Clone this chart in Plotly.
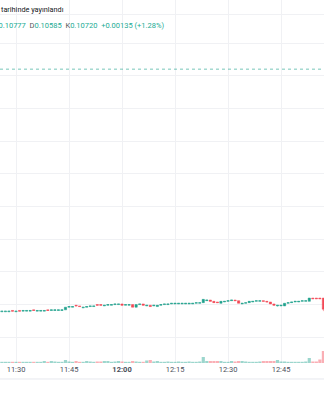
import plotly.graph_objects as go
import pandas as pd

# ---- data (1-minute candles, 11:26 .. 12:57) ----
times = pd.date_range("2024-01-01 11:26", periods=92, freq="min")

opens = [0.10689, 0.10689, 0.10689, 0.10691, 0.10689, 0.10691, 0.10690, 0.10690, 0.10690, 0.10692,
         0.10690, 0.10690, 0.10690, 0.10692, 0.10691, 0.10691, 0.10691, 0.10691, 0.10692, 0.10696,
         0.10696, 0.10699, 0.10698, 0.10695, 0.10696, 0.10697, 0.10697, 0.10700, 0.10700, 0.10698,
         0.10699, 0.10699, 0.10700, 0.10700, 0.10701, 0.10699, 0.10699, 0.10700, 0.10696, 0.10700,
         0.10701, 0.10698, 0.10699, 0.10698, 0.10697, 0.10699, 0.10700, 0.10700, 0.10701, 0.10701,
         0.10701, 0.10701, 0.10701, 0.10701, 0.10701, 0.10702, 0.10702, 0.10703, 0.10706, 0.10707,
         0.10705, 0.10704, 0.10702, 0.10704, 0.10705, 0.10706, 0.10707, 0.10706, 0.10701, 0.10702,
         0.10703, 0.10704, 0.10705, 0.10705, 0.10706, 0.10705, 0.10704, 0.10701, 0.10698, 0.10698,
         0.10698, 0.10702, 0.10703, 0.10704, 0.10704, 0.10705, 0.10705, 0.10705, 0.10710, 0.10710,
         0.10710, 0.10710]
highs = [0.10690, 0.10690, 0.10690, 0.10691, 0.10690, 0.10691, 0.10691, 0.10691, 0.10691, 0.10692,
         0.10691, 0.10691, 0.10691, 0.10692, 0.10692, 0.10692, 0.10692, 0.10692, 0.10696, 0.10697,
         0.10697, 0.10699, 0.10698, 0.10696, 0.10697, 0.10698, 0.10698, 0.10700, 0.10700, 0.10699,
         0.10700, 0.10700, 0.10701, 0.10701, 0.10701, 0.10700, 0.10700, 0.10700, 0.10700, 0.10701,
         0.10701, 0.10699, 0.10699, 0.10699, 0.10699, 0.10700, 0.10701, 0.10701, 0.10702, 0.10702,
         0.10702, 0.10702, 0.10702, 0.10702, 0.10702, 0.10703, 0.10703, 0.10708, 0.10707, 0.10707,
         0.10705, 0.10704, 0.10705, 0.10705, 0.10706, 0.10707, 0.10707, 0.10706, 0.10702, 0.10703,
         0.10705, 0.10705, 0.10706, 0.10706, 0.10706, 0.10705, 0.10704, 0.10701, 0.10699, 0.10699,
         0.10702, 0.10703, 0.10704, 0.10705, 0.10705, 0.10706, 0.10706, 0.10710, 0.10710, 0.10710,
         0.10710, 0.10710]
lows = [0.10689, 0.10689, 0.10689, 0.10690, 0.10689, 0.10690, 0.10690, 0.10690, 0.10690, 0.10691,
        0.10690, 0.10690, 0.10690, 0.10691, 0.10691, 0.10691, 0.10691, 0.10691, 0.10692, 0.10696,
        0.10696, 0.10698, 0.10697, 0.10695, 0.10696, 0.10697, 0.10697, 0.10699, 0.10699, 0.10698,
        0.10699, 0.10699, 0.10700, 0.10700, 0.10699, 0.10699, 0.10699, 0.10696, 0.10696, 0.10700,
        0.10699, 0.10698, 0.10697, 0.10698, 0.10697, 0.10699, 0.10700, 0.10700, 0.10701, 0.10701,
        0.10701, 0.10701, 0.10701, 0.10701, 0.10701, 0.10702, 0.10702, 0.10703, 0.10706, 0.10705,
        0.10703, 0.10703, 0.10702, 0.10704, 0.10705, 0.10706, 0.10706, 0.10702, 0.10701, 0.10702,
        0.10703, 0.10704, 0.10705, 0.10705, 0.10705, 0.10704, 0.10701, 0.10699, 0.10697, 0.10698,
        0.10698, 0.10702, 0.10703, 0.10704, 0.10704, 0.10705, 0.10705, 0.10705, 0.10709, 0.10709,
        0.10709, 0.10690]
closes = [0.10690, 0.10690, 0.10690, 0.10690, 0.10690, 0.10690, 0.10691, 0.10691, 0.10691, 0.10691,
          0.10691, 0.10691, 0.10691, 0.10691, 0.10692, 0.10692, 0.10692, 0.10692, 0.10696, 0.10697,
          0.10697, 0.10698, 0.10697, 0.10696, 0.10697, 0.10698, 0.10698, 0.10699, 0.10699, 0.10699,
          0.10700, 0.10700, 0.10701, 0.10701, 0.10699, 0.10700, 0.10700, 0.10696, 0.10700, 0.10701,
          0.10699, 0.10699, 0.10697, 0.10699, 0.10699, 0.10700, 0.10701, 0.10701, 0.10702, 0.10702,
          0.10702, 0.10702, 0.10702, 0.10702, 0.10702, 0.10703, 0.10703, 0.10708, 0.10707, 0.10705,
          0.10703, 0.10703, 0.10705, 0.10705, 0.10706, 0.10707, 0.10706, 0.10702, 0.10702, 0.10703,
          0.10705, 0.10705, 0.10706, 0.10706, 0.10705, 0.10704, 0.10701, 0.10699, 0.10699, 0.10699,
          0.10702, 0.10703, 0.10704, 0.10705, 0.10705, 0.10706, 0.10706, 0.10710, 0.10709, 0.10709,
          0.10709, 0.10693]
volumes = [6000, 6000, 6000, 6000, 6000, 6000, 6000, 6000, 6000, 6000,
           6000, 6000, 10000, 6000, 10000, 7500, 6000, 6000, 15000, 7500,
           6000, 10000, 6000, 6000, 10000, 7500, 6000, 7500, 7500, 10000,
           10000, 6000, 7500, 10000, 7500, 6000, 6000, 10000, 7500, 6000,
           6000, 12500, 15000, 7500, 10000, 6000, 6000, 7500, 6000, 6000,
           7500, 6000, 6000, 7500, 6000, 6000, 7500, 30000, 10000, 10000,
           10000, 10000, 10000, 6000, 6000, 10000, 7500, 10000, 10000, 7500,
           6000, 6000, 6000, 7500, 10000, 10000, 10000, 10000, 15000, 7500,
           7500, 6000, 6000, 6000, 6000, 6000, 7500, 25000, 7500, 7500,
           17500, 60000]

tick_vals = ["2024-01-01 11:30", "2024-01-01 11:45", "2024-01-01 12:00",
             "2024-01-01 12:15", "2024-01-01 12:30", "2024-01-01 12:45"]
tick_text = ["11:30", "11:45", "<b>12:00</b>", "12:15", "12:30", "12:45"]
x_range = ["2024-01-01 11:25:28", "2024-01-01 12:57:10"]
price_range = [0.106107, 0.1116575]
price_grid = [0.1065, 0.1070, 0.1075, 0.1080, 0.1085, 0.1090, 0.1095, 0.1100, 0.1105, 0.1110, 0.11143]
ref_price = 0.11060

header_line1 = "tarihinde yayınlandı"
header_line2 = ("Y0.10777&nbsp; <span style='color:#555'>D</span>0.10585&nbsp; "
                "<span style='color:#555'>K</span>0.10720&nbsp; +0.00135 (+1.28%)")

UP = "#089981"
DOWN = "#F23645"

vol_colors = [("rgba(8,153,129,0.4)" if c > o else "rgba(242,54,69,0.4)") for o, c in zip(opens, closes)]

fig = go.Figure()
fig.add_trace(go.Bar(x=times, y=volumes, yaxis="y2", marker=dict(color=vol_colors, line=dict(width=0)),
                     hoverinfo="skip"))
fig.add_trace(go.Candlestick(
    x=times, open=opens, high=highs, low=lows, close=closes,
    increasing=dict(line=dict(color=UP, width=0.5), fillcolor=UP),
    decreasing=dict(line=dict(color=DOWN, width=0.5), fillcolor=DOWN),
    whiskerwidth=0, opacity=0.9,
))

fig.add_shape(type="line", xref="paper", yref="y", x0=0, x1=1, y0=ref_price, y1=ref_price,
              line=dict(color="rgba(8,153,129,0.55)", width=1, dash="dot"))
fig.add_shape(type="line", xref="paper", yref="paper", x0=0, x1=1, y0=-0.044, y1=-0.044,
              line=dict(color="#e6e8ee", width=1))

fig.add_annotation(text=header_line1, xref="paper", yref="paper", x=-0.004, y=1 - 9 / 363,
                   xanchor="left", yanchor="middle", showarrow=False,
                   font=dict(family="Roboto", size=7.3, color="#131722"))
fig.add_annotation(text=header_line2, xref="paper", yref="paper", x=-0.024, y=1 - 25 / 363,
                   xanchor="left", yanchor="middle", showarrow=False,
                   font=dict(family="Roboto", size=7.5, color="#22ab94"))

fig.update_layout(
    width=324, height=400, margin=dict(l=0, r=0, t=0, b=37),
    paper_bgcolor="white", plot_bgcolor="white", showlegend=False,
    bargap=0.1, boxgap=0.1,
    xaxis=dict(type="date", range=x_range, rangeslider=dict(visible=False),
               tickvals=tick_vals, ticktext=tick_text, showgrid=True, gridcolor="#f0f1f4",
               gridwidth=1, zeroline=False, showline=False, ticks="",
               tickfont=dict(family="Roboto", size=7.5, color="#4a4e59")),
    yaxis=dict(range=price_range, tickvals=price_grid, showticklabels=False, showgrid=True,
               gridcolor="#f0f1f4", zeroline=False, fixedrange=True),
    yaxis2=dict(overlaying="y", range=[0, 1815000], showgrid=False, showticklabels=False,
                zeroline=False),
)

fig.write_html("out.html")
